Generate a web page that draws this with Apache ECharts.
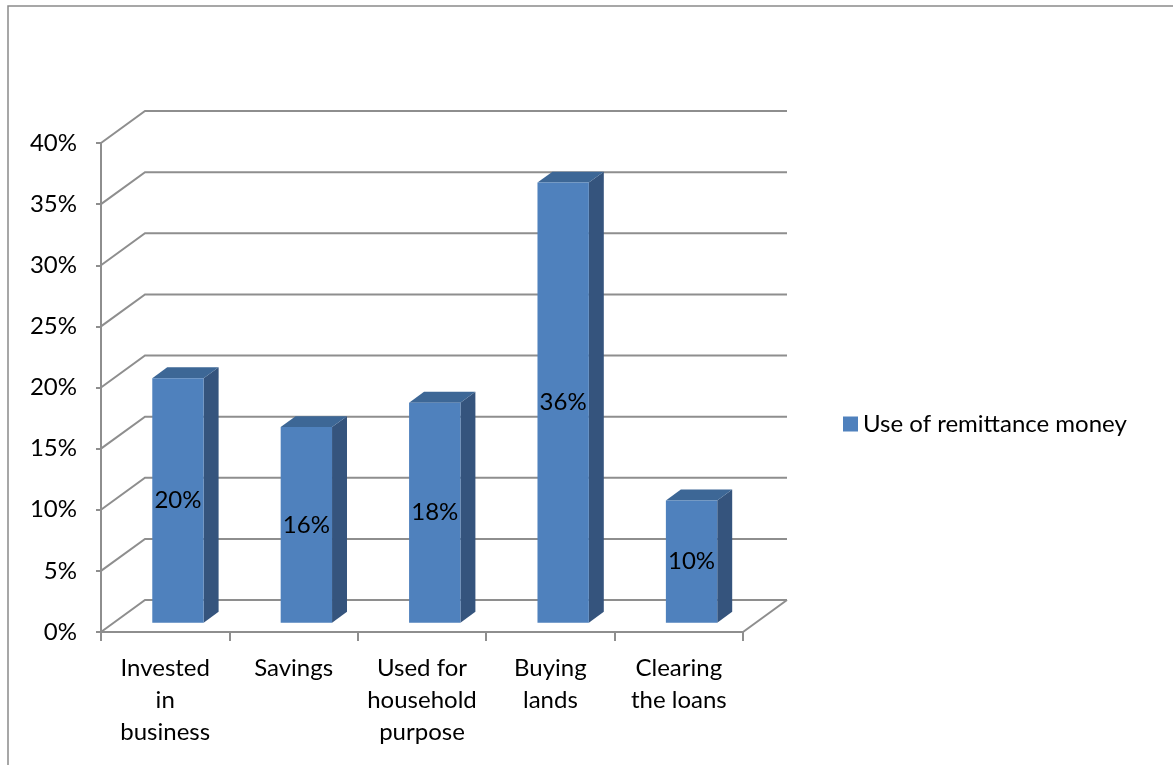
<!DOCTYPE html>
<html>
<head>
<meta charset="utf-8">
<script src="https://cdn.jsdelivr.net/npm/echarts@6/dist/echarts.min.js"></script>
<style>
  html, body { margin: 0; padding: 0; background: #ffffff; }
  #chart { width: 1173px; height: 765px; }
</style>
</head>
<body>
<div id="chart"></div>
<script>
// Uses of remittance money (share of respondents, %)
const categories = ['Invested\nin\nbusiness', 'Savings', 'Used for\nhousehold\npurpose', 'Buying\nlands', 'Clearing\nthe loans'];
const shares = [20, 16, 18, 36, 10];
const yTicks = [0, 5, 10, 15, 20, 25, 30, 35, 40];
const seriesName = 'Use of remittance money';

// Perspective offset of the back wall relative to the front plane
const DEPTH_X = 44;
const DEPTH_Y = -32;
const BAR_FRONT = 0.29;   // depth fraction where bar front faces sit
const BAR_DEPTH = 0.34;   // depth fraction taken by each bar
const BAR_WIDTH = 0.40;   // fraction of a category band

const FONT = 'Lato, "Open Sans", sans-serif';
const FONT_SIZE = 24;
const GRID_COLOR = '#8E8E8E';

const chart = echarts.init(document.getElementById('chart'), null, { renderer: 'canvas' });

// Left wall diagonals and back wall lines at each value tick
function renderWalls(params, api) {
  const cs = params.coordSys;
  const v = api.value(1);
  const y = api.coord([0, v])[1];
  const x0 = cs.x, x1 = cs.x + cs.width;
  const children = [{
    type: 'polyline',
    shape: { points: [[x0, y], [x0 + DEPTH_X, y + DEPTH_Y], [x1 + DEPTH_X, y + DEPTH_Y]] },
    style: { stroke: GRID_COLOR, lineWidth: 2, fill: null }
  }];
  if (v === 0) {
    children.push({
      type: 'line',
      shape: { x1: x1, y1: y, x2: x1 + DEPTH_X, y2: y + DEPTH_Y },
      style: { stroke: GRID_COLOR, lineWidth: 2 }
    });
  }
  return { type: 'group', children: children };
}

// 3D-looking bar: front face, shaded side, top, value label
function renderBar(params, api) {
  const cat = api.value(0);
  const v = api.value(1);
  const band = api.size([1, 0])[0];
  const w = band * BAR_WIDTH;
  const base = api.coord([cat, 0]);
  const cx = base[0];
  const yTopFront = api.coord([cat, v])[1];
  const ox = DEPTH_X * BAR_FRONT, oy = DEPTH_Y * BAR_FRONT;
  const sx = DEPTH_X * BAR_DEPTH, sy = DEPTH_Y * BAR_DEPTH;
  const xl = cx - w / 2 + ox, xr = cx + w / 2 + ox;
  const yb = base[1] + oy, yt = yTopFront + oy;
  return {
    type: 'group',
    children: [
      {
        type: 'polygon',
        shape: { points: [[xr, yb], [xr, yt], [xr + sx, yt + sy], [xr + sx, yb + sy]] },
        style: { fill: '#35547D' }
      },
      {
        type: 'polygon',
        shape: { points: [[xl, yt], [xr, yt], [xr + sx, yt + sy], [xl + sx, yt + sy]] },
        style: { fill: '#3D6796' }
      },
      {
        type: 'rect',
        shape: { x: xl, y: yt, width: xr - xl, height: yb - yt },
        style: { fill: '#4F81BD' }
      },
      {
        type: 'text',
        style: {
          x: (xl + xr) / 2, y: (yt + yb) / 2,
          text: v + '%',
          align: 'center', verticalAlign: 'middle',
          fill: '#000000', font: FONT_SIZE + 'px ' + FONT
        }
      }
    ]
  };
}

chart.setOption({
  animation: false,
  backgroundColor: '#ffffff',
  textStyle: { fontFamily: FONT },
  graphic: [{
    type: 'rect',
    shape: { x: 8, y: 6, width: 1300, height: 900 },
    style: { fill: null, stroke: '#8A8A8A', lineWidth: 1.5 },
    silent: true
  }],
  legend: {
    data: [seriesName],
    left: 838,
    top: 407,
    itemWidth: 15,
    itemHeight: 15,
    itemGap: 10,
    icon: 'rect',
    textStyle: { fontSize: FONT_SIZE, color: '#000000', fontFamily: FONT, padding: [0, 0, 0, 0] }
  },
  grid: { left: 101, right: 430, top: 143, bottom: 133 },
  xAxis: {
    type: 'category',
    data: categories,
    boundaryGap: true,
    axisLine: { show: true, lineStyle: { color: GRID_COLOR, width: 2 } },
    axisTick: { show: true, interval: 0, length: 9, lineStyle: { color: GRID_COLOR, width: 2 } },
    axisLabel: {
      interval: 0, margin: 20, color: '#000000', fontSize: FONT_SIZE,
      lineHeight: 32, fontFamily: FONT, align: 'center'
    },
    splitLine: { show: false }
  },
  yAxis: {
    type: 'value',
    min: 0, max: 40, interval: 5,
    axisLine: { show: true, lineStyle: { color: GRID_COLOR, width: 2 } },
    axisTick: { show: true, length: 5, lineStyle: { color: GRID_COLOR, width: 2 } },
    axisLabel: { formatter: '{value}%', margin: 24, color: '#000000', fontSize: FONT_SIZE, fontFamily: FONT },
    splitLine: { show: false }
  },
  series: [
    {
      type: 'custom',
      name: 'walls',
      clip: false,
      z: 1,
      silent: true,
      renderItem: renderWalls,
      encode: { x: 0, y: 1 },
      data: yTicks.map(function (t) { return [0, t]; })
    },
    {
      type: 'custom',
      name: seriesName,
      clip: false,
      z: 3,
      itemStyle: { color: '#4F81BD' },
      renderItem: renderBar,
      encode: { x: 0, y: 1 },
      data: shares.map(function (s, i) { return [i, s]; })
    }
  ]
});
</script>
</body>
</html>
